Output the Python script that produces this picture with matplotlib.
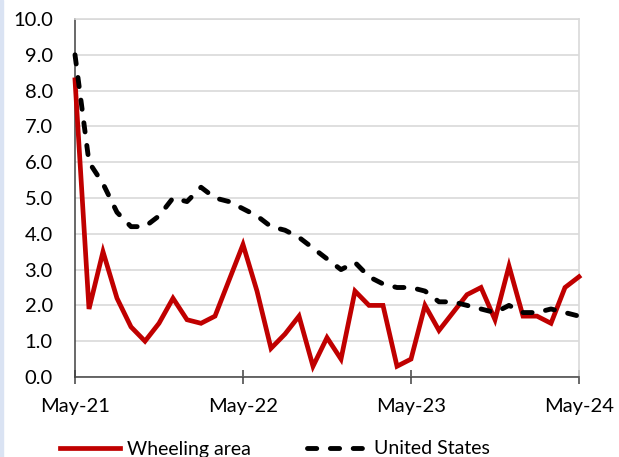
import matplotlib
matplotlib.use("Agg")
import matplotlib.pyplot as plt
from matplotlib.patches import Rectangle

plt.rcParams['font.family'] = ['Lato', 'DejaVu Sans']

months = list(range(37))
wheeling = [8.3, 1.9, 3.5, 2.2, 1.4, 1.0, 1.5, 2.2, 1.6, 1.5, 1.7, 2.7, 3.7,
            2.4, 0.8, 1.2, 1.7, 0.3, 1.1, 0.5, 2.4, 2.0, 2.0, 0.3, 0.5, 2.0,
            1.3, 1.8, 2.3, 2.5, 1.6, 3.1, 1.7, 1.7, 1.5, 2.5, 2.8]
united_states = [9.0, 6.0, 5.4, 4.6, 4.2, 4.2, 4.5, 5.0, 4.9, 5.3, 5.0, 4.9, 4.7,
                 4.5, 4.2, 4.1, 3.9, 3.6, 3.3, 3.0, 3.2, 2.8, 2.6, 2.5, 2.5, 2.4,
                 2.1, 2.1, 2.0, 1.9, 1.8, 2.0, 1.8, 1.8, 1.9, 1.8, 1.7]
xtick_pos = [0, 12, 24, 36]
xtick_labels = ['May-21', 'May-22', 'May-23', 'May-24']
yticks = [0, 1, 2, 3, 4, 5, 6, 7, 8, 9, 10]

fig = plt.figure(figsize=(6.19, 4.57), dpi=100)
ax = fig.add_axes([75/619, 80/457, 504/619, 358/457])

ax.plot(months, wheeling, color='#c00000', lw=3.4, solid_joinstyle='miter',
        label='Wheeling area', clip_on=False, zorder=3)
ax.plot(months, united_states, color='black', lw=3.5, linestyle=(0, (1.9, 2.8)),
        dash_capstyle='round', label='United States', clip_on=False, zorder=4)

ax.set_xlim(0, 36)
ax.set_ylim(0, 10)
ax.set_yticks(yticks)
ax.set_yticklabels([f'{v:.1f}' for v in yticks])
ax.set_xticks(xtick_pos)
ax.set_xticklabels(xtick_labels)

ax.yaxis.grid(True, color='#d9d9d9', lw=1.2)
ax.set_axisbelow(True)
ax.tick_params(axis='y', length=0, pad=16, labelsize=14.5, labelcolor='black')
ax.tick_params(axis='x', direction='inout', length=10, width=1.1, color='#404040',
               pad=10, labelsize=14.5, labelcolor='black')

for s in ['top', 'right']:
    ax.spines[s].set_color('#d9d9d9')
    ax.spines[s].set_linewidth(1.2)
ax.spines['left'].set_color('#404040')
ax.spines['left'].set_linewidth(1.1)
ax.spines['bottom'].set_color('#404040')
ax.spines['bottom'].set_linewidth(1.1)

leg = fig.legend(loc='center', bbox_to_anchor=(275/619, 1 - 449/457), ncol=2,
                 frameon=False, fontsize=14, handlelength=3.1, handletextpad=0.35,
                 columnspacing=2.9)

fig.patches.append(Rectangle((0, 0), 3/619, 1, transform=fig.transFigure,
                             color='#dae3f3', zorder=0))

fig.savefig('out.png', dpi=100)
